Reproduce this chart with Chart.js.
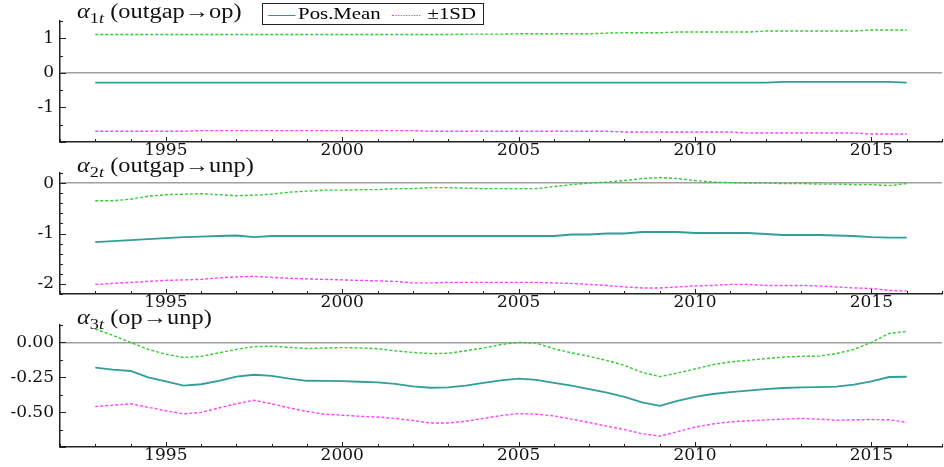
<!DOCTYPE html>
<html>
<head>
<meta charset="utf-8">
<script src="https://cdn.jsdelivr.net/npm/chart.js@4"></script>
<style>
  body { margin: 0; background: #fff; width: 944px; height: 467px; position: relative; overflow: hidden; font-family: "Liberation Serif", serif; }
  .panel { position: absolute; left: 0; width: 944px; }
  .title { position: absolute; left: 77px; font-size: 20px; color: #111; white-space: nowrap; transform: scaleX(1.22); transform-origin: 0 0; }
  .title sub { font-size: 15px; }
  #legend { position: absolute; left: 262px; top: 3px; width: 220px; height: 20px; border: 1px solid #222; background: #fff; overflow: hidden; }
  #legend .in { font-size: 16px; line-height: 20px; white-space: nowrap; transform: scaleX(1.3); transform-origin: 0 0; }
  #legend span.ln { display: inline-block; vertical-align: middle; margin: 0 2px 0 4px; }
</style>
</head>
<body>
<div class="panel" style="top:0;height:162px"><canvas id="p1"></canvas></div>
<div class="panel" style="top:152px;height:162px"><canvas id="p2"></canvas></div>
<div class="panel" style="top:304px;height:163px"><canvas id="p3"></canvas></div>
<div class="title" style="top:0px"><i>α</i><sub>1<i>t</i></sub> (outgap→op)</div>
<div class="title" style="top:154px"><i>α</i><sub>2<i>t</i></sub> (outgap→unp)</div>
<div class="title" style="top:306px"><i>α</i><sub>3<i>t</i></sub> (op→unp)</div>
<div id="legend"><div class="in"><span class="ln" style="border-top:1.5px solid #2a9a94;width:21px"></span>Pos.Mean <span class="ln" style="border-top:1.5px dotted #ff33ff;width:22px"></span> ±1SD</div></div>
<script>
// half-year steps, 1993.0 .. 2016.0
var years = [];
for (var y = 1993; y <= 2016.001; y += 0.5) years.push(y);

// alpha1: outgap -> op
var a1Upper = [1.11,1.11,1.11,1.11,1.11,1.11,1.11,1.11,1.11,1.11,1.11,1.11,1.11,1.11,1.11,1.11,1.11,1.11,1.11,1.11,1.11,1.12,1.12,1.12,1.13,1.13,1.13,1.13,1.13,1.15,1.16,1.16,1.16,1.18,1.18,1.18,1.18,1.18,1.21,1.21,1.21,1.21,1.21,1.21,1.24,1.24,1.24];
var a1Mean = [-0.285,-0.285,-0.285,-0.285,-0.285,-0.285,-0.285,-0.285,-0.285,-0.285,-0.285,-0.285,-0.285,-0.285,-0.285,-0.285,-0.285,-0.285,-0.285,-0.285,-0.285,-0.285,-0.285,-0.285,-0.285,-0.285,-0.285,-0.285,-0.285,-0.285,-0.285,-0.285,-0.285,-0.285,-0.285,-0.285,-0.285,-0.285,-0.285,-0.26,-0.26,-0.26,-0.26,-0.26,-0.26,-0.26,-0.285];
var a1Lower = [-1.69,-1.69,-1.69,-1.69,-1.69,-1.69,-1.67,-1.67,-1.67,-1.67,-1.67,-1.67,-1.67,-1.67,-1.67,-1.67,-1.67,-1.67,-1.67,-1.69,-1.69,-1.69,-1.69,-1.69,-1.69,-1.69,-1.69,-1.69,-1.69,-1.69,-1.71,-1.71,-1.71,-1.71,-1.71,-1.71,-1.71,-1.74,-1.74,-1.74,-1.74,-1.74,-1.74,-1.74,-1.77,-1.77,-1.77];

// alpha2: outgap -> unp
var a2Upper = [-0.35,-0.35,-0.32,-0.26,-0.23,-0.22,-0.21,-0.23,-0.25,-0.24,-0.22,-0.18,-0.16,-0.14,-0.14,-0.13,-0.13,-0.11,-0.11,-0.09,-0.09,-0.10,-0.11,-0.11,-0.11,-0.11,-0.07,-0.03,0.0,0.02,0.05,0.09,0.11,0.09,0.05,0.02,0.01,0.0,0.0,-0.01,-0.01,-0.02,-0.02,-0.03,-0.03,-0.05,-0.01];
var a2Mean = [-1.17,-1.15,-1.13,-1.11,-1.09,-1.07,-1.06,-1.05,-1.04,-1.07,-1.05,-1.05,-1.05,-1.05,-1.05,-1.05,-1.05,-1.05,-1.05,-1.05,-1.05,-1.05,-1.05,-1.05,-1.05,-1.05,-1.05,-1.02,-1.02,-1.0,-1.0,-0.97,-0.97,-0.97,-0.99,-0.99,-0.99,-0.99,-1.01,-1.03,-1.03,-1.03,-1.04,-1.05,-1.07,-1.08,-1.08];
var a2Lower = [-2.01,-1.99,-1.97,-1.95,-1.93,-1.92,-1.91,-1.88,-1.86,-1.85,-1.87,-1.89,-1.90,-1.91,-1.92,-1.93,-1.94,-1.95,-1.98,-1.98,-1.97,-1.97,-1.97,-1.97,-1.97,-1.97,-1.98,-1.99,-2.01,-2.03,-2.06,-2.08,-2.08,-2.06,-2.04,-2.03,-2.01,-2.01,-2.03,-2.03,-2.03,-2.04,-2.06,-2.08,-2.09,-2.13,-2.14];

// alpha3: op -> unp
var a3Upper = [0.096,0.05,0.0,-0.05,-0.085,-0.108,-0.10,-0.075,-0.05,-0.03,-0.027,-0.035,-0.044,-0.04,-0.037,-0.039,-0.045,-0.06,-0.072,-0.08,-0.078,-0.06,-0.04,-0.015,0.0,-0.005,-0.045,-0.075,-0.10,-0.13,-0.165,-0.215,-0.245,-0.22,-0.19,-0.16,-0.14,-0.128,-0.116,-0.105,-0.10,-0.098,-0.08,-0.05,0.0,0.065,0.078];
var a3Mean = [-0.18,-0.195,-0.205,-0.25,-0.28,-0.31,-0.30,-0.275,-0.245,-0.232,-0.24,-0.26,-0.275,-0.276,-0.277,-0.282,-0.287,-0.297,-0.315,-0.325,-0.323,-0.31,-0.29,-0.272,-0.26,-0.268,-0.29,-0.31,-0.335,-0.36,-0.39,-0.43,-0.455,-0.42,-0.39,-0.37,-0.357,-0.345,-0.335,-0.327,-0.322,-0.32,-0.317,-0.302,-0.28,-0.248,-0.246];
var a3Lower = [-0.46,-0.45,-0.44,-0.465,-0.49,-0.512,-0.502,-0.47,-0.44,-0.415,-0.44,-0.47,-0.495,-0.515,-0.522,-0.53,-0.535,-0.545,-0.56,-0.578,-0.578,-0.565,-0.545,-0.525,-0.51,-0.515,-0.527,-0.55,-0.575,-0.60,-0.625,-0.655,-0.672,-0.64,-0.607,-0.585,-0.57,-0.562,-0.556,-0.55,-0.545,-0.55,-0.558,-0.555,-0.553,-0.555,-0.573];

var teal = '#319e98', green = '#33cc33', magenta = '#ff40ff';
var tickFont = "'DejaVu Serif', serif";

function pts(vals) {
    return vals.map(function (v, i) { return { x: years[i], y: v }; });
}

function isMajor(v, step) {
    return Math.abs(v / step - Math.round(v / step)) < 1e-6;
}

// inward tick marks, drawn through the chart's scales
var innerTicks = {
    id: 'innerTicks',
    afterDraw: function (chart) {
        var ctx = chart.ctx, a = chart.chartArea;
        var xs = chart.scales.x, ys = chart.scales.y;
        var o = chart.options.plugins.innerTicks;
        ctx.save();
        ctx.strokeStyle = '#222';
        ctx.lineWidth = 1;
        ys.ticks.forEach(function (t) {
            var py = Math.round(ys.getPixelForValue(t.value)) + 0.5;
            var len = isMajor(t.value, o.yMajor) ? 6 : 3;
            ctx.beginPath();
            ctx.moveTo(a.left, py);
            ctx.lineTo(a.left + len, py);
            ctx.stroke();
        });
        xs.ticks.forEach(function (t) {
            var px = Math.round(xs.getPixelForValue(t.value)) + 0.5;
            var len = isMajor(t.value, 5) ? 5 : 3;
            ctx.beginPath();
            ctx.moveTo(px, a.bottom);
            ctx.lineTo(px, a.bottom - len);
            ctx.stroke();
        });
        ctx.restore();
    }
};

function makePanel(id, upper, mean, lower, yMin, yMax, yStep, yMajor, fmt) {
    var ctx = document.getElementById(id).getContext('2d');
    return new Chart(ctx, {
        type: 'line',
        data: {
            datasets: [
                { label: '+1SD', data: pts(upper), borderColor: green, borderWidth: 1.4, borderDash: [3, 2], pointRadius: 0, tension: 0 },
                { label: 'Pos.Mean', data: pts(mean), borderColor: teal, borderWidth: 1.8, pointRadius: 0, tension: 0 },
                { label: '-1SD', data: pts(lower), borderColor: magenta, borderWidth: 1.4, borderDash: [3, 2], pointRadius: 0, tension: 0 }
            ]
        },
        options: {
            responsive: true,
            maintainAspectRatio: false,
            animation: false,
            layout: { padding: { top: 21, right: 2, left: 0, bottom: 0 } },
            plugins: {
                legend: { display: false },
                tooltip: { enabled: false },
                innerTicks: { yMajor: yMajor }
            },
            scales: {
                x: {
                    type: 'linear',
                    min: 1992,
                    max: 2017,
                    afterFit: function (s) { s.height = 20; },
                    border: { display: true, color: '#222', width: 1.5 },
                    grid: { display: false, drawTicks: false },
                    ticks: {
                        stepSize: 1,
                        padding: -2,
                        maxRotation: 0,
                        autoSkip: false,
                        color: '#111',
                        font: { family: tickFont, size: 17 },
                        callback: function (v) { return isMajor(v, 5) && v > 1992 && v < 2017 ? String(v) : ''; }
                    }
                },
                y: {
                    min: yMin,
                    max: yMax,
                    afterFit: function (s) { s.width = 60; },
                    border: { display: true, color: '#222', width: 1.5 },
                    grid: {
                        drawTicks: false,
                        lineWidth: 1.5,
                        color: function (c) { return c.tick && Math.abs(c.tick.value) < 1e-9 ? '#a0a0a0' : 'rgba(0,0,0,0)'; }
                    },
                    ticks: {
                        stepSize: yStep,
                        padding: 6,
                        autoSkip: false,
                        color: '#111',
                        font: { family: tickFont, size: 17 },
                        callback: fmt
                    }
                }
            }
        },
        plugins: [innerTicks]
    });
}

makePanel('p1', a1Upper, a1Mean, a1Lower, -2, 1.5, 0.5, 1, function (v) {
    return isMajor(v, 1) && v > -2 ? String(Math.round(v)) : '';
});
makePanel('p2', a2Upper, a2Mean, a2Lower, -2.2, 0.2, 0.2, 1, function (v) {
    return isMajor(v, 1) ? String(Math.round(v)) : '';
});
makePanel('p3', a3Upper, a3Mean, a3Lower, -0.75, 0.125, 0.125, 0.25, function (v) {
    return isMajor(v, 0.25) && v > -0.7 ? v.toFixed(2) : '';
});
</script>
</body>
</html>
